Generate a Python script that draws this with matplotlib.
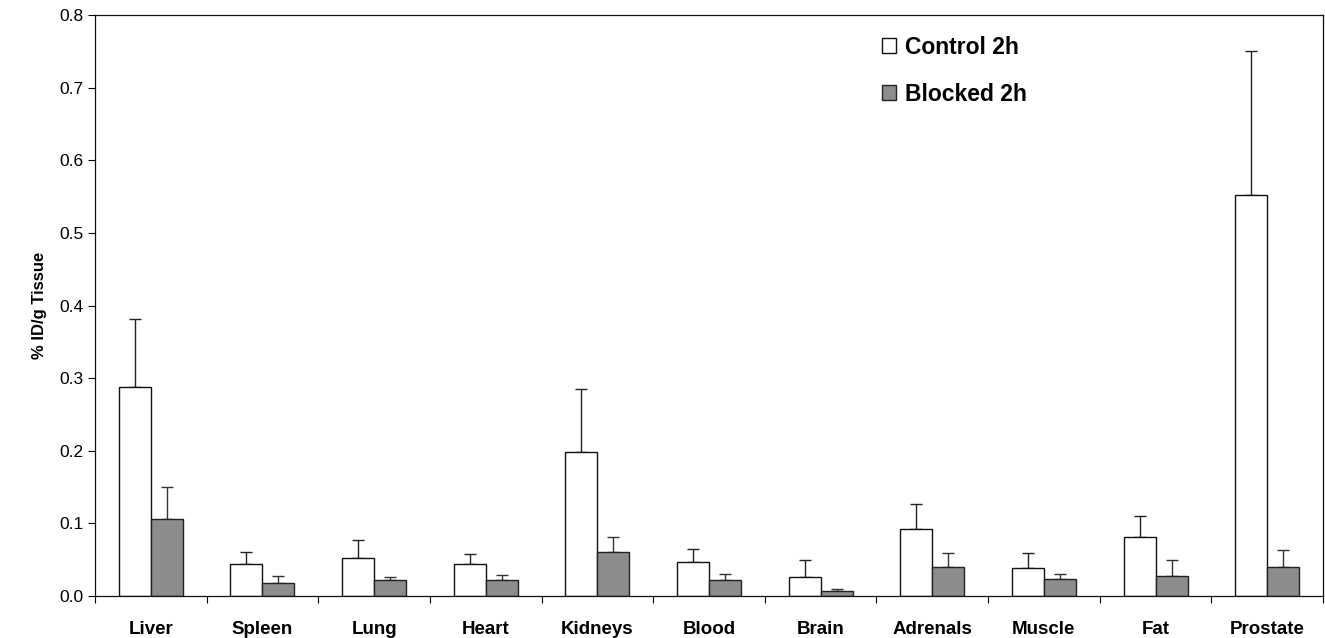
import numpy as np
import matplotlib
matplotlib.use("Agg")
import matplotlib.pyplot as plt

plt.rcParams['font.family'] = ['Liberation Sans', 'DejaVu Sans']

# biodistribution, % ID/g, mean and upper SD
tissues = ['Liver', 'Spleen', 'Lung', 'Heart', 'Kidneys', 'Blood',
           'Brain', 'Adrenals', 'Muscle', 'Fat', 'Prostate']
control_2h = [0.288, 0.044, 0.052, 0.044, 0.198, 0.047, 0.026, 0.092, 0.039, 0.081, 0.552]
control_sd = [0.093, 0.016, 0.025, 0.014, 0.087, 0.018, 0.023, 0.035, 0.020, 0.029, 0.198]
blocked_2h = [0.106, 0.018, 0.022, 0.022, 0.060, 0.022, 0.007, 0.040, 0.023, 0.028, 0.040]
blocked_sd = [0.044, 0.010, 0.004, 0.007, 0.021, 0.009, 0.003, 0.019, 0.008, 0.021, 0.023]
yticks = [0.0, 0.1, 0.2, 0.3, 0.4, 0.5, 0.6, 0.7, 0.8]

fig = plt.figure(figsize=(13.25, 6.38), dpi=100)
ax = fig.add_axes([0.0717, 0.0658, 0.9268, 0.9107])

x = np.arange(len(tissues)) + 0.5
w = 0.2865
zeros = np.zeros(len(tissues))

ax.bar(x - w / 2, control_2h, w, color='white', edgecolor='#111111', linewidth=1.0,
       label='Control 2h', zorder=2)
ax.bar(x + w / 2, blocked_2h, w, color='#8c8c8c', edgecolor='#222222', linewidth=1.0,
       label='Blocked 2h', zorder=2)
ax.errorbar(x - w / 2, control_2h, yerr=[zeros, control_sd], fmt='none',
            ecolor='#222222', elinewidth=1.0, capsize=4, capthick=1.0, zorder=1)
ax.errorbar(x + w / 2, blocked_2h, yerr=[zeros, blocked_sd], fmt='none',
            ecolor='#333333', elinewidth=1.0, capsize=4, capthick=1.0, zorder=1)

ax.set_xlim(0, len(tissues))
ax.set_ylim(0, 0.8)
ax.set_yticks(yticks)
ax.set_yticklabels(['%.1f' % v for v in yticks], fontsize=12.5)
ax.tick_params(axis='y', direction='out', length=5, width=0.8, pad=3)

# boundary ticks between groups, labels at group centres
ax.set_xticks(np.arange(len(tissues) + 1))
ax.set_xticklabels([])
ax.tick_params(axis='x', which='major', direction='out', length=5, width=0.8)
ax.set_xticks(x, minor=True)
ax.set_xticklabels(tissues, minor=True, fontsize=13.5, fontweight='bold')
ax.tick_params(axis='x', which='minor', length=0, pad=18)

for s in ax.spines.values():
    s.set_linewidth(0.9)
    s.set_color('#111111')

ax.set_ylabel('% ID/g Tissue', fontsize=12, fontweight='bold', labelpad=9)

leg = ax.legend(loc='upper left', bbox_to_anchor=(0.624, 1.0), frameon=False,
                prop={'size': 16.5, 'weight': 'bold'}, handlelength=0.6,
                handleheight=0.6, handletextpad=0.42, labelspacing=1.05)

fig.savefig('out.png', dpi=100)
